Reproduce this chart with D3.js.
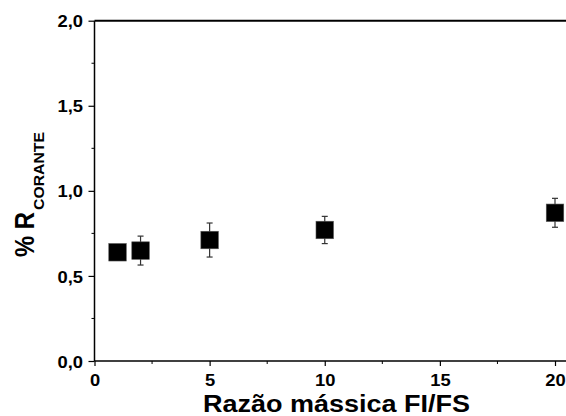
<!DOCTYPE html>
<html><head><meta charset="utf-8">
<script src="https://cdn.jsdelivr.net/npm/d3@7"></script>
<style>body{margin:0;background:#fff}svg{display:block}</style>
</head><body>
<script>
const ratios = [1, 2, 5, 10, 20];
const values = [0.639, 0.649, 0.711, 0.770, 0.871];
const errors = [0.03, 0.085, 0.10, 0.08, 0.085];
const xTicks = [0, 5, 10, 15, 20];
const yTicks = [0, 0.5, 1.0, 1.5, 2.0];
const xMinor = [2.5, 7.5, 12.5, 17.5];
const yMinor = [0.25, 0.75, 1.25, 1.75];

const W = 566, H = 416;
const FONT = "'Liberation Sans', Arial, sans-serif";
const svg = d3.select("body").append("svg").attr("width", W).attr("height", H);
const x = d3.scaleLinear().domain([0, 20]).range([94.5, 555]);
const y = d3.scaleLinear().domain([0, 2]).range([361, 20.7]);
const fmt = d => d3.format(".1f")(d).replace(".", ",");

// frame
svg.append("line").attr("x1", 94.5).attr("x2", W).attr("y1", y(2)).attr("y2", y(2)).attr("stroke", "#000").attr("stroke-width", 2);
const xa = svg.append("g").attr("transform", `translate(0,${y(0)})`)
  .call(d3.axisBottom(x).tickValues(xTicks).tickFormat(d3.format("d")).tickSize(5).tickPadding(5));
xa.select(".domain").attr("d", `M94.5,0H${W}`).attr("stroke-width", 1.5);
xa.selectAll(".minor").data(xMinor).enter().append("line").attr("class","minor")
  .attr("x1", d => x(d)).attr("x2", d => x(d)).attr("y1", 0).attr("y2", 3).attr("stroke", "#000");
xa.selectAll(".tick text").attr("y", 24.5).attr("dy", null);
const ya = svg.append("g").attr("transform", `translate(${x(0)},0)`)
  .call(d3.axisLeft(y).tickValues(yTicks).tickFormat(fmt).tickSize(6).tickPadding(6));
ya.select(".domain").attr("d", `M0,${y(0)}V${y(2)}`).attr("stroke-width", 1.5);
ya.selectAll(".minor").data(yMinor).enter().append("line").attr("class","minor")
  .attr("y1", d => y(d)).attr("y2", d => y(d)).attr("x1", 0).attr("x2", -3).attr("stroke", "#000");
ya.selectAll(".tick text").attr("x", -11.5).attr("dy", "0.36em");
svg.selectAll(".tick text").attr("font-family", FONT)
  .attr("font-weight", "bold").attr("font-size", 17).attr("fill", "#000")
  .each(function() { const L = this.getComputedTextLength(); d3.select(this).attr("textLength", L * 1.08).attr("lengthAdjust", "spacingAndGlyphs"); });
svg.selectAll(".tick line").attr("stroke-width", 1.2);

// error bars
const pts = ratios.map((r, i) => ({r, v: values[i], e: errors[i]}));
const eb = svg.append("g").attr("stroke", "#333").attr("stroke-width", 1.2);
pts.forEach(p => {
  eb.append("line").attr("x1", x(p.r)).attr("x2", x(p.r)).attr("y1", y(p.v - p.e)).attr("y2", y(p.v + p.e));
  [p.v - p.e, p.v + p.e].forEach(v => eb.append("line").attr("x1", x(p.r) - 3).attr("x2", x(p.r) + 3).attr("y1", y(v)).attr("y2", y(v)));
});
// squares
const s = 17.5;
svg.append("g").selectAll("rect").data(pts).enter().append("rect")
  .attr("x", d => x(d.r) - s/2).attr("y", d => y(d.v) - s/2).attr("width", s).attr("height", s)
  .attr("fill", "#000").attr("stroke", "#555").attr("stroke-width", 0.6);

// titles
svg.append("text").attr("x", 336.5).attr("y", 412).attr("text-anchor", "middle")
  .attr("font-family", FONT).attr("font-weight", "bold").attr("font-size", 23)
  .attr("textLength", 267).attr("lengthAdjust", "spacingAndGlyphs")
  .text("Razão mássica FI/FS");
const yt = svg.append("g").attr("transform", "translate(33.5,257) rotate(-90)")
  .attr("font-family", FONT).attr("font-weight", "bold");
yt.append("text").attr("x", 0).attr("y", 0).attr("font-size", 27)
  .attr("textLength", 45).attr("lengthAdjust", "spacingAndGlyphs").text("% R");
yt.append("text").attr("x", 47).attr("y", 10).attr("font-size", 14)
  .attr("textLength", 78).attr("lengthAdjust", "spacingAndGlyphs").text("CORANTE");
</script>
</body></html>
